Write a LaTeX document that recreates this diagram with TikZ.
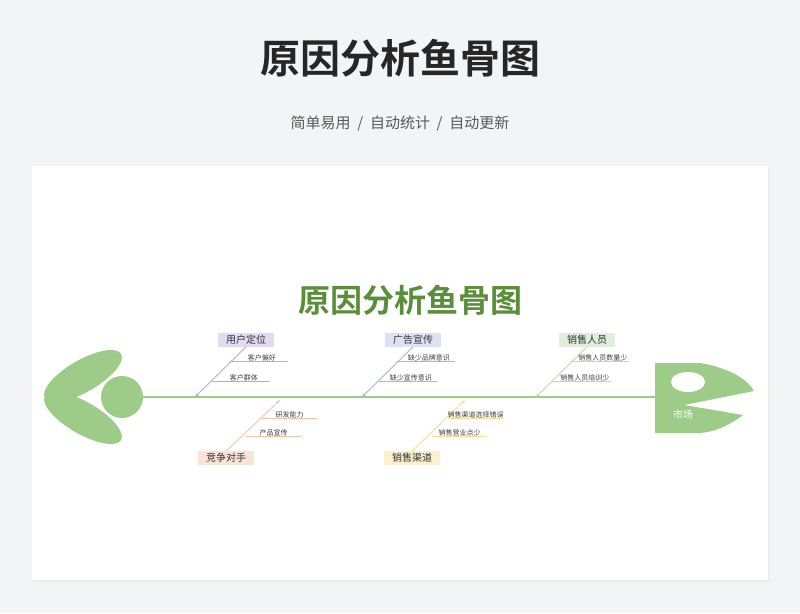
\documentclass[tikz,border=0pt]{standalone}
\usepackage{fontspec}
\setmainfont{Noto Sans CJK SC}
\newfontfamily\cjkbold{Noto Sans CJK SC Bold}
\usetikzlibrary{positioning,arrows.meta}
\definecolor{bone}{HTML}{9DCB88}
\definecolor{pagebg}{HTML}{F3F4F6}
\definecolor{titlegreen}{HTML}{5B8E3A}
\definecolor{purpleln}{HTML}{BBA9DD}\definecolor{purplebg}{HTML}{E3DAF3}
\definecolor{blueln}{HTML}{A9B6DE}\definecolor{bluebg}{HTML}{DCE2F3}
\definecolor{greenln}{HTML}{BFD9B2}\definecolor{greenbg}{HTML}{E0EEDA}
\definecolor{orangeln}{HTML}{F2C3A5}\definecolor{orangebg}{HTML}{F9E4D7}
\definecolor{yellowln}{HTML}{F6DE8E}\definecolor{yellowbg}{HTML}{FCF0CE}
\begin{document}
\begin{tikzpicture}[x=1pt,y=-1pt,
	cat/.style={rectangle,inner xsep=8pt,inner ysep=2pt,font=\fontsize{10}{10}\selectfont,text=black!80},
	sub/.style={font=\fontsize{7}{7}\selectfont,text=black!75,inner sep=1pt},
	branch/.style={line width=0.9pt,-{Stealth[length=4pt]}}
]
\fill[pagebg] (0,0) rectangle (800,613);
\fill[black!8] (33,168) rectangle (770,582);
\fill[white] (32,166) rectangle (768,580);
\node (head) at (400,58) {\cjkbold\fontsize{40}{44}\selectfont\color{black!85}原因分析鱼骨图};
\node (subt) at (400,124) {\fontsize{15}{16}\selectfont\color{black!65}简单易用 \ / \ 自动统计 \ / \ 自动更新};
\node[text=titlegreen] (title) at (410,300) {\cjkbold\fontsize{32}{36}\selectfont 原因分析鱼骨图};
% spine
\draw[bone,line width=2.2pt] (140,397) -- (660,397);
% tail
\fill[bone,rotate around={30:(83,376)}] (83,376) ellipse (44 and 16);
\fill[bone,rotate around={-30:(83,418)}] (83,418) ellipse (44 and 16);
\fill[bone] (122,397) ellipse (21 and 21);
% head
\fill[bone] (655,363) -- (700,363) .. controls (730,368) and (748,380) .. (754,391)
	-- (684,405) -- (743,415) .. controls (730,425) and (715,432) .. (700,433)
	-- (655,433) -- cycle;
\fill[white] (688,382) ellipse (17 and 10);
\node[text=white,font=\fontsize{10}{10}\selectfont] (market) at (683,415) {市场};
% categories
\node[cat,fill=purplebg] (user) at (246,340) {用户定位};
\node[cat,fill=bluebg] (ad) at (413,340) {广告宣传};
\node[cat,fill=greenbg] (staff) at (587,340) {销售人员};
\node[cat,fill=orangebg] (rival) at (226,458) {竞争对手};
\node[cat,fill=yellowbg] (chan) at (412,458) {销售渠道};
\coordinate (u0) at (195,397);
\coordinate (a0) at (362,397);
\coordinate (s0) at (536,397);
\coordinate (r0) at (280,400);
\coordinate (c0) at (465,400);
\draw[branch,purpleln] (user.south) -- (u0);
\draw[branch,blueln] (ad.south) -- (a0);
\draw[branch,greenln] (staff.south) -- (s0);
\draw[branch,orangeln] (rival.north) -- (r0);
\draw[branch,yellowln] (chan.north) -- (c0);
% sub causes
\foreach \y/\x/\t/\c in {361/230/客户偏好/purpleln,381/212/客户群体/purpleln,
	361/397/缺少品牌意识/blueln,381/379/缺少宣传意识/blueln,
	361/571/销售人员数量少/greenln,381/553/销售人员培训少/greenln}
	\draw[\c,line width=0.6pt] (\x,\y) -- ++(58,0) node[sub,pos=0.55,above=-1pt] {\t};
\foreach \y/\x/\t/\c in {418/262/研发能力/orangeln,436/246/产品宣传/orangeln,
	418/448/销售渠道选择错误/yellowln,436/432/销售营业点少/yellowln}
	\draw[\c,line width=0.6pt] (\x,\y) -- ++(55,0) node[sub,pos=0.5,above=-1pt] {\t};
\end{tikzpicture}
\end{document}
